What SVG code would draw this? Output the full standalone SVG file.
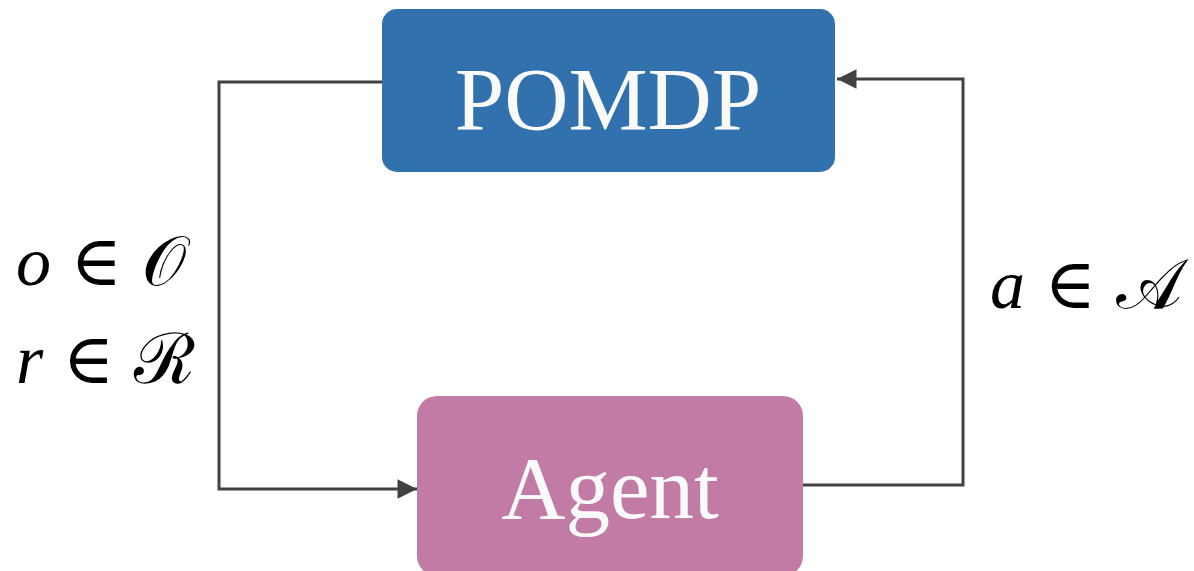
<svg xmlns="http://www.w3.org/2000/svg" width="1194" height="571" viewBox="0 0 1194 571">
<style>
.node-text{font-family:"Liberation Serif","DejaVu Serif",serif;font-size:89px;fill:#fafafa;text-anchor:middle}
.edge{fill:none;stroke:#3f4241;stroke-width:3}
.math{font-family:"Liberation Serif","DejaVu Serif",serif;font-size:70px;fill:#000;word-spacing:2px}
.it{font-style:italic}
</style>
<defs>
<marker id="arrow" viewBox="0 0 10 10" refX="10" refY="5" markerWidth="9" markerHeight="6.5" markerUnits="strokeWidth" orient="auto">
<path d="M0,0 L10,5 L0,10 z" fill="#3f4241"/>
</marker>
</defs>
<rect width="1194" height="571" fill="#ffffff"/>
<g id="connectors">
<polyline class="edge" points="382,82 219,82 219,489 417,489" marker-end="url(#arrow)"/>
<polyline class="edge" points="803,485 963,485 963,79 837,79" marker-end="url(#arrow)"/>
</g>
<g id="pomdp">
<rect x="382" y="9" width="453" height="163" rx="15" fill="#3171ad"/>
<text class="node-text" x="608" y="129">POMDP</text>
</g>
<g id="agent">
<rect x="417" y="396" width="386" height="180" rx="20" fill="#c17ba5"/>
<text class="node-text" x="610" y="518">Agent</text>
</g>
<g id="labels">
<text class="math" x="16" y="285"><tspan class="it">o</tspan> ∈ 𝒪</text>
<text class="math" x="16" y="383"><tspan class="it">r</tspan> ∈ ℛ</text>
<text class="math" x="990" y="308"><tspan class="it">a</tspan> ∈ 𝒜</text>
</g>
</svg>
